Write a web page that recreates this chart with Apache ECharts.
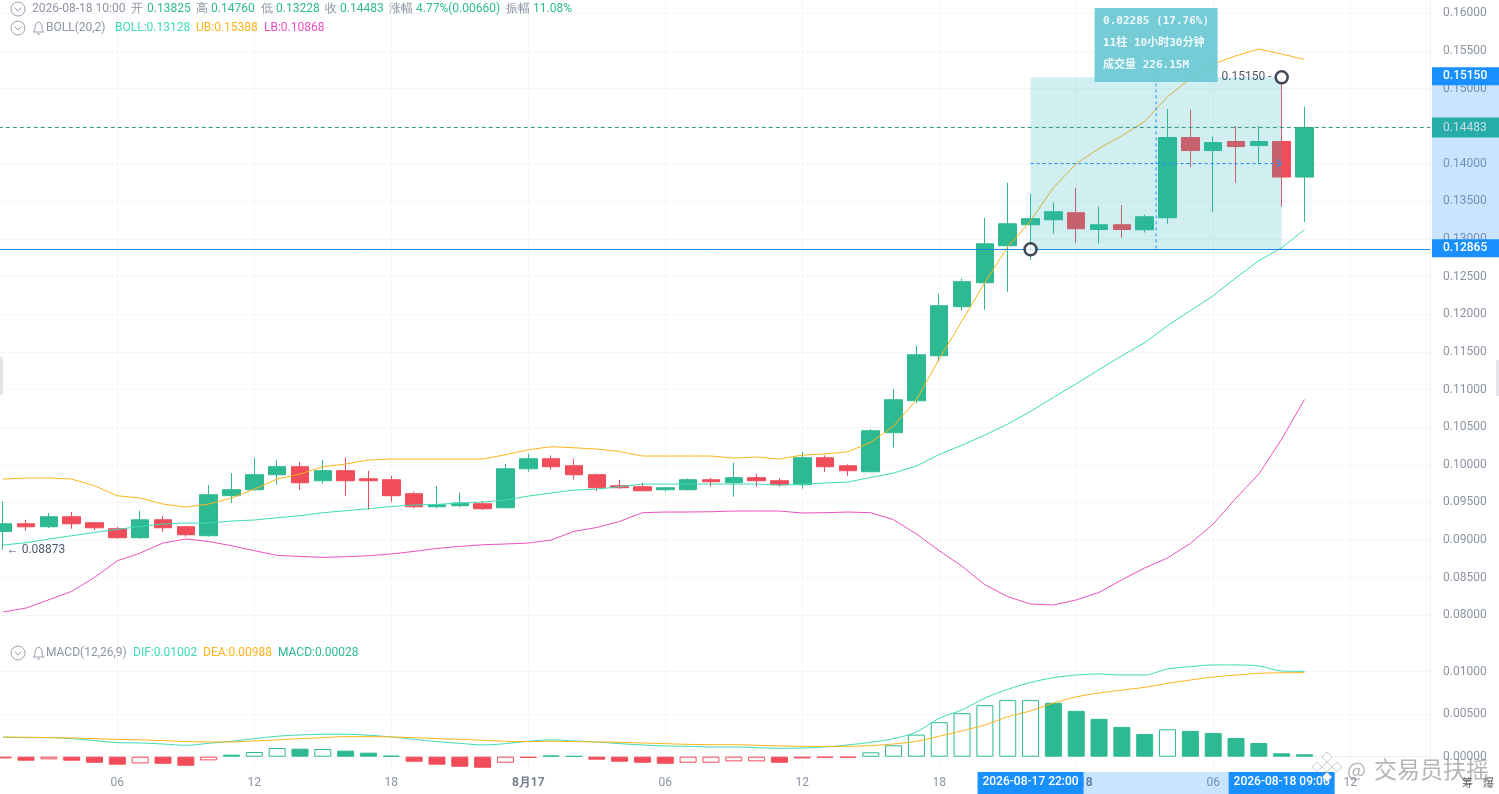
<!DOCTYPE html>
<html><head><meta charset="utf-8">
<style>html,body{margin:0;padding:0;background:#fff}#c{width:1499px;height:794px}</style>
<script src="https://cdn.jsdelivr.net/npm/echarts@6/dist/echarts.min.js"></script>
</head><body><div id="c"></div>
<script>
const opens=[.09115,.09217,.09177,.0931,.09231,.09151,.09031,.0927,.09177,.09058,.0959,.09669,.09869,.09975,.09789,.09922,.09815,.09802,.09616,.09443,.09457,.09483,.0943,.09948,.10081,.09988,.09869,.09722,.09709,.09669,.09669,.09802,.09762,.09829,.09789,.09736,.10094,.09988,.09908,.10427,.10852,.1145,.12102,.1242,.12912,.13191,.13257,.13351,.13128,.13191,.13124,.13284,.1435,.14177,.14297,.14243,.14297,.13825];
const closes=[.09217,.09177,.0931,.09217,.09164,.09031,.0927,.09164,.09071,.09603,.09669,.09869,.09975,.09762,.09922,.09789,.09789,.0959,.09443,.0947,.09492,.09417,.09948,.10081,.09975,.09869,.09696,.09696,.09656,.09696,.09802,.09775,.09829,.09789,.09736,.10094,.09975,.09922,.10453,.10865,.11463,.12115,.12434,.12938,.13204,.13271,.13364,.13138,.13191,.13128,.13297,.1435,.14177,.14283,.1423,.14297,.13825,.14483];
const lows=[.08873,.09124,.0916,.09151,.09134,.09018,.09018,.09111,.09045,.09048,.09496,.0966,.09736,.09665,.09749,.0959,.09403,.09506,.09421,.09421,.09434,.094,.09421,.09908,.09931,.09806,.09652,.09682,.09656,.09643,.0966,.09709,.09576,.09709,.09709,.09682,.09908,.09855,.09908,.10231,.10821,.1137,.12048,.12062,.12301,.12726,.13071,.12952,.12943,.13018,.13088,.13204,.13959,.13364,.1375,.14,.13436,.13228];
const highs=[.0951,.0927,.09359,.09373,.09231,.09177,.0939,.09324,.0919,.09732,.09891,.1009,.10064,.10041,.10068,.10094,.09922,.09855,.09643,.09718,.0963,.0952,.10015,.10148,.10125,.10081,.09882,.09802,.09762,.09709,.09819,.09825,.10028,.09882,.09825,.10174,.10125,.10005,.10479,.11007,.11583,.12274,.12474,.13284,.13749,.13603,.13488,.13683,.13431,.13454,.13324,.1473,.14719,.14363,.14503,.14503,.1515,.1476];
const bollMid=[.08934,.08965,.09014,.09058,.09102,.09142,.09181,.09213,.09227,.09227,.09253,.09267,.09297,.09324,.09364,.0939,.09417,.09447,.09466,.09474,.09492,.09506,.09532,.09585,.09625,.09665,.09678,.09709,.09745,.09745,.09745,.09745,.09745,.09745,.09732,.09745,.09758,.09772,.09833,.09891,.09984,.10138,.10261,.10396,.10542,.1071,.10896,.11078,.11264,.1145,.11623,.11849,.12048,.12247,.12487,.12713,.12885,.13128];
const bollUp=[.09811,.09825,.09825,.09811,.09722,.09589,.09559,.09479,.09439,.09479,.09559,.09678,.09811,.09878,.09975,.10011,.10064,.10077,.10077,.10077,.10077,.10077,.10134,.10201,.10241,.10227,.1021,.10178,.10117,.10117,.10117,.10117,.1009,.10104,.10077,.1013,.10144,.10174,.10298,.10516,.10865,.11406,.11915,.12424,.12899,.13244,.13683,.14002,.14205,.14374,.14564,.14892,.15131,.15327,.15437,.15526,.1546,.15388];
const bollLow=[.08044,.08097,.08207,.08318,.08504,.08726,.08828,.08961,.09014,.08982,.08925,.08859,.08796,.08783,.0877,.08779,.08792,.08815,.0885,.08889,.08916,.08938,.08948,.08961,.09001,.09115,.09168,.09248,.09364,.09373,.09373,.09377,.09386,.09386,.09386,.0936,.09364,.09373,.09364,.09271,.09081,.08859,.08653,.08407,.08248,.0815,.08137,.08204,.08305,.08473,.08629,.08762,.08956,.09213,.09559,.09878,.10343,.10868];
const macdHist=[-.0002,-.00047,-.00031,-.00047,-.00071,-.00094,-.00079,-.00083,-.00106,-.00043,.00024,.00055,.00102,.00094,.0009,.00071,.00047,.00012,-.00059,-.00094,-.00118,-.0013,-.00071,-.00015,.00015,.00008,-.00035,-.00059,-.00071,-.00083,-.00071,-.00071,-.00055,-.00055,-.00071,-.0002,-.00012,-.00012,.00051,.00134,.00259,.00405,.00511,.00605,.00664,.00664,.00633,.00538,.00444,.0035,.00267,.00322,.00303,.00279,.0022,.00161,.0004,.00028];
const macdHollow=[0,0,1,0,0,0,1,0,0,1,0,1,1,0,1,0,0,0,0,0,0,0,1,0,0,0,0,0,0,0,1,1,1,1,0,0,0,0,1,1,1,1,1,1,1,1,0,0,0,0,0,1,0,0,0,0,0,0];
const macdDif=[.00228,.00224,.00224,.00212,.00189,.00165,.00161,.00149,.00134,.00157,.00181,.00212,.0024,.00255,.00263,.00263,.00252,.00232,.00204,.00177,.00157,.00138,.00153,.00181,.00197,.00185,.00173,.00153,.00138,.00126,.00122,.00114,.00114,.00106,.00098,.00102,.00114,.00138,.00169,.00212,.00291,.00452,.0055,.00688,.0079,.00872,.00927,.00959,.00971,.00959,.00959,.0103,.01057,.01077,.01077,.01065,.01006,.01002];
const macdDea=[.00232,.00228,.00224,.0022,.00212,.00204,.00197,.00189,.00177,.00173,.00173,.00185,.00197,.00212,.00224,.00236,.00236,.00232,.00224,.00212,.00204,.00193,.00181,.00177,.00181,.00177,.00173,.00169,.00161,.00153,.00145,.00141,.00141,.00134,.00126,.00122,.00122,.00122,.0013,.00149,.00181,.0024,.00303,.00373,.00468,.00538,.00629,.00703,.00747,.00782,.00814,.00861,.009,.00935,.00959,.00979,.00985,.00988];
const priceTicks=[.08,.085,.09,.095,.1,.105,.11,.115,.12,.125,.13,.135,.14,.145,.15,.155,.16];
const macdTicks=[0,.005,.01];
const measureLow=.12865, measureHigh=.1515, measureFrom=45, measureTo=56, lastClose=.14483, lowPrice=.08873;

const barCount=63;
const pad=n=>String(n).padStart(2,'0');
const categories=[];
for(let i=1;i<=barCount;i++){const d=16+Math.floor(i/24);categories.push('2026-08-'+d+' '+pad(i%24)+':00');}

const GREEN='#2dba93',RED='#f14c59',TEAL='#3ddbb8',YEL='#ffb31a',PINK='#ee4fc0',BLUE='#1890ff',GREY='#8c94a3',GRID='#f5f6f8';
const FONT='Roboto';
const band=22.83, leftX=3.2-band/2, gridW=band*barCount;
const isTick=i=>(i+1)%6===0;
const baseX=(idx,extra)=>Object.assign({type:'category',gridIndex:idx,data:categories,boundaryGap:true,
  axisTick:{show:false},axisLine:{show:idx===1,lineStyle:{color:'#eef0f3'}},
  splitLine:{show:true,alignWithLabel:true,interval:isTick,lineStyle:{color:GRID,width:1}}},extra);
const baseY=(idx,min,max,ticks)=>({type:'value',gridIndex:idx,position:'right',min,max,scale:true,
  axisLine:{show:true,lineStyle:{color:'#eef0f3'}},
  axisTick:{show:false,customValues:ticks},
  axisLabel:{show:true,customValues:ticks,margin:13,color:GREY,fontFamily:FONT,fontSize:12,formatter:v=>(+v).toFixed(5)},
  splitLine:{show:true,lineStyle:{color:GRID,width:1}}});
const plain=(name,data,color,xi,yi,smooth)=>({name,type:'line',data,xAxisIndex:xi,yAxisIndex:yi,symbol:'none',smooth:smooth||false,z:3,
  lineStyle:{color,width:1},itemStyle:{color},silent:true});

const chart=echarts.init(document.getElementById('c'),null,{renderer:'canvas',width:1499,height:794});
chart.setOption({
  animation:false,backgroundColor:'#fff',
  grid:[{left:leftX,top:0,width:gridW,height:644,containLabel:false,outerBoundsMode:'none'},{left:leftX,top:644,width:gridW,height:127,containLabel:false,outerBoundsMode:'none'}],
  xAxis:[baseX(0,{axisLabel:{show:false}}),
    baseX(1,{axisLabel:{show:true,interval:isTick,margin:6,color:GREY,fontFamily:FONT,fontSize:12,hideOverlap:false,
      rich:{d:{color:'#6f7787',fontFamily:FONT,fontSize:12,fontWeight:600}},
      formatter:v=>{const h=v.slice(11,13);return h==='00'?'{d|8月'+v.slice(8,10)+'}':h;}}})],
  yAxis:[baseY(0,.07619,.16178,priceTicks),baseY(1,-.00168,.01323,macdTicks)],
  series:[
    {name:'K',type:'candlestick',xAxisIndex:0,yAxisIndex:0,z:2,barWidth:18,
     data:opens.map((o,i)=>[o,closes[i],lows[i],highs[i]]),
     itemStyle:{color:GREEN,color0:RED,borderColor:GREEN,borderColor0:RED,borderWidth:1}},
    plain('BOLL',bollMid,TEAL,0,0),plain('UB',bollUp,YEL,0,0),plain('LB',bollLow,PINK,0,0),
    {name:'MACD',type:'bar',xAxisIndex:1,yAxisIndex:1,barWidth:17,z:2,
     data:macdHist.map((v,i)=>{const c=v>=0?GREEN:RED;return {value:v,itemStyle:{color:macdHollow[i]?'#fff':c,borderColor:c,borderWidth:1}};})},
    plain('DIF',macdDif,TEAL,1,1,.3),plain('DEA',macdDea,YEL,1,1,.3),
    {name:'measure',type:'scatter',xAxisIndex:0,yAxisIndex:0,z:20,symbol:'circle',symbolSize:12,silent:true,
     data:[[measureFrom,measureLow],{value:[measureTo,measureHigh],label:{show:true,position:'left',distance:3,formatter:measureHigh.toFixed(5)+' -',color:'#1c2a45',fontFamily:FONT,fontSize:12}}],
     itemStyle:{color:'#fff',borderColor:'#141a2e',borderWidth:2.5},
     markArea:{z:5,silent:true,itemStyle:{color:'rgba(38,178,188,0.21)'},
       data:[[{xAxis:measureFrom,yAxis:measureHigh},{xAxis:measureTo,yAxis:measureLow}]]},
     markLine:{z:6,silent:true,symbol:'none',precision:5,label:{show:false},
       data:[{yAxis:lastClose,lineStyle:{color:'#3a9b86',type:[4,3],width:1}},
             {yAxis:measureLow,lineStyle:{color:'#1e88e5',type:'solid',width:1}},
             [{coord:[measureFrom,(measureLow+measureHigh)/2],lineStyle:{color:BLUE,type:[3,3],width:1}},{coord:[measureTo,(measureLow+measureHigh)/2]}]]}},
    {name:'low',type:'scatter',xAxisIndex:0,yAxisIndex:0,z:20,symbolSize:1,silent:true,data:[[0,lowPrice]],itemStyle:{color:'transparent'},
     label:{show:true,position:'right',distance:3,formatter:'← '+lowPrice.toFixed(5),color:'#1c2a45',fontFamily:FONT,fontSize:12}}
  ]
});

const px=i=>chart.convertToPixel({xAxisIndex:0},i);
const py=v=>chart.convertToPixel({yAxisIndex:0},v);
const G=[];
const Z=100;
const txt=(x,y,text,fill,o)=>G.push({type:'text',x,y,z:Z+2,silent:true,style:Object.assign({text,fill,font:'12px '+FONT,textVerticalAlign:'middle',textAlign:'left'},o||{})});
const rect=(x,y,width,height,fill,z)=>G.push({type:'rect',z:z||Z,silent:true,shape:{x,y,width,height},style:{fill}});
const icon=(y,bell)=>{
  G.push({type:'circle',z:Z,silent:true,shape:{cx:18,cy:y,r:7},style:{fill:'#fff',stroke:'#9aa1ae',lineWidth:1}});
  G.push({type:'polyline',z:Z,silent:true,shape:{points:[[14.5,y-1.5],[18,y+2],[21.5,y-1.5]]},style:{stroke:'#9aa1ae',lineWidth:1,fill:'none'}});
  if(bell){
    G.push({type:'polyline',z:Z,silent:true,shape:{points:[[33,y+4],[35,y+2],[35,y-2],[36.5,y-5],[38.5,y-6],[40.5,y-5],[42,y-2],[42,y+2],[44,y+4],[33,y+4]]},style:{stroke:'#9aa1ae',lineWidth:1,fill:'none'}});
    G.push({type:'line',z:Z,silent:true,shape:{x1:37,y1:y+6,x2:40,y2:y+6},style:{stroke:'#9aa1ae',lineWidth:1}});
  }
};
// header rows
icon(9,false);icon(28,true);icon(653,true);
[[32,'2026-08-18 10:00',GREY],[131,'开',GREY],[147,'0.13825',GREEN],[196,'高',GREY],[211,'0.14760',GREEN],[261,'低',GREY],[276,'0.13228',GREEN],[325,'收',GREY],[340,'0.14483',GREEN],[389,'涨幅',GREY],[416,'4.77%(0.00660)',GREEN],[506,'振幅',GREY],[533,'11.08%',GREEN]].forEach(r=>txt(r[0],9,r[1],r[2]));
[[46,'BOLL(20,2)',GREY],[115,'BOLL:0.13128',TEAL],[196,'UB:0.15388',YEL],[264,'LB:0.10868',PINK]].forEach(r=>txt(r[0],28,r[1],r[2]));
[[46,'MACD(12,26,9)',GREY],[133,'DIF:0.01002',TEAL],[203,'DEA:0.00988',YEL],[278,'MACD:0.00028',GREEN]].forEach(r=>txt(r[0],653,r[1],r[2]));
// side tabs
rect(0,357,3,38,'#e3e5ea');rect(1496,360,3,36,'#e3e5ea');
// right axis range and tags
const yHi=py(measureHigh),yLo=py(measureLow),yLast=py(lastClose);
rect(1432,yHi,67,yLo-yHi,'rgba(24,144,255,0.238)');
rect(1432,yLast-10,67,20,'#26aca9',Z+1);
txt(1443,yLast,lastClose.toFixed(5),'#c9dde6');
rect(1432,yHi-10,67,18,BLUE,Z+1);
txt(1443,yHi-1,measureHigh.toFixed(5),'#fff',{font:'500 12px '+FONT});
rect(1432,yLo-10,67,18,BLUE,Z+1);
txt(1443,yLo-1,measureLow.toFixed(5),'#fff',{font:'500 12px '+FONT});
// bottom axis range and tags
const xA=px(measureFrom),xB=px(measureTo),xM=(xA+xB)/2;
rect(xA,772,xB-xA,22,'rgba(24,144,255,0.238)');
rect(xA-53,772,106,22,BLUE,Z+1);
txt(xA,782,categories[measureFrom],'#fff',{textAlign:'center',font:'500 12px '+FONT});
rect(xB-53,772,106,22,BLUE,Z+1);
txt(xB,782,categories[measureTo],'#fff',{textAlign:'center',font:'500 12px '+FONT});
// measure: vertical dashed line, arrow head and info box
G.push({type:'line',z:Z,silent:true,shape:{x1:xM,y1:yHi,x2:xM,y2:yLo},style:{stroke:BLUE,lineWidth:1,lineDash:[3,3]}});
const yMid=py((measureLow+measureHigh)/2);
G.push({type:'polyline',z:Z,silent:true,shape:{points:[[xB-5,yMid-4],[xB,yMid],[xB-5,yMid+4]]},style:{stroke:BLUE,lineWidth:1,fill:'none'}});
rect(xM-61.5,8,123,74,'rgba(112,202,212,0.96)',Z+1);
const mono={font:'bold 11px "DejaVu Sans Mono","Noto Sans CJK SC"'};
txt(xM-53,21,'0.02285 (17.76%)','#eefafb',mono);
txt(xM-53,43,'11柱 10小时30分钟','#eefafb',mono);
txt(xM-53,65,'成交量 226.15M','#eefafb',mono);
// watermark
const lx=1327,ly=767;
[[0,-10],[-10,0],[10,0],[0,10],[0,0]].forEach(o=>G.push({type:'polygon',z:Z+3,silent:true,shape:{points:[[lx+o[0],ly+o[1]-5],[lx+o[0]+5,ly+o[1]],[lx+o[0],ly+o[1]+5],[lx+o[0]-5,ly+o[1]]]},style:{fill:'rgba(255,255,255,0.92)',stroke:'rgba(150,150,158,0.7)',lineWidth:.7}}));
txt(1347,769,'@','rgba(130,130,135,0.6)',{font:'20px "Noto Sans CJK SC"'});
txt(1374,769,'交易员扶摇','rgba(130,130,135,0.6)',{font:'23px "Noto Sans CJK SC"'});
txt(1462,783,'筹','#666',{font:'11px "Noto Sans CJK SC"'});
txt(1483,783,'爆','#666',{font:'11px "Noto Sans CJK SC"'});
chart.setOption({graphic:G});
</script></body></html>
